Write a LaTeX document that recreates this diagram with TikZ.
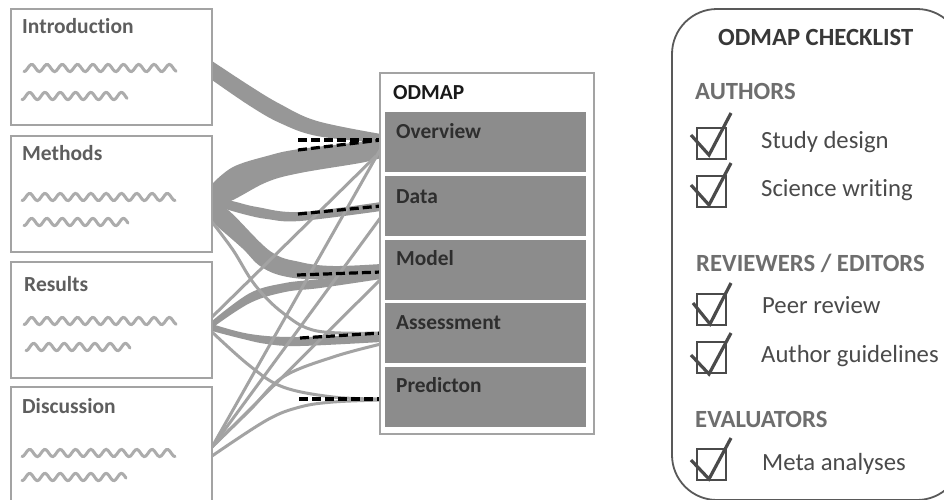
\documentclass[tikz,border=0pt]{standalone}
\usepackage{fontspec}
\setmainfont[Ligatures=NoCommon]{Carlito}
\definecolor{flowgrey}{HTML}{979797}
\definecolor{framegrey}{HTML}{A3A3A3}
\definecolor{wavegrey}{HTML}{ACACAC}
\definecolor{sectiongrey}{HTML}{8C8C8C}
\definecolor{titlegrey}{HTML}{5E5E5E}
\definecolor{headgrey}{HTML}{6E6E6E}
\definecolor{inkgrey}{HTML}{4A4A4A}
\newcommand{\wavyline}[3]{\draw[wave] plot[domain=#1:#2,samples=90,smooth] (\x,{#3+3.6*cos(((\x-#1)/15.3)*360)});}
\tikzset{
  x=1pt,y=-1pt,
  sourcebox/.style={draw=framegrey,fill=white,line width=2pt,minimum width=201.5pt,minimum height=116pt,anchor=north west,inner sep=0pt,outer sep=0pt},
  sectionbox/.style={fill=sectiongrey,minimum width=201pt,minimum height=60pt,anchor=north west,inner sep=0pt,outer sep=0pt},
  srctitle/.style={anchor=base west,inner sep=0pt,font=\fontsize{21.5}{21.5}\selectfont\bfseries,text=titlegrey},
  sectitle/.style={anchor=base west,inner sep=0pt,font=\fontsize{21.4}{21.4}\selectfont\bfseries,text=black!82},
  chead/.style={anchor=base west,inner sep=0pt,font=\fontsize{24.7}{24.7}\selectfont\bfseries,text=headgrey},
  citem/.style={anchor=base west,inner sep=0pt,font=\fontsize{24.7}{24.7}\selectfont,text=inkgrey},
  wave/.style={draw=wavegrey,line width=3pt,line cap=round},
  band/.style={fill=flowgrey,draw=none},
  thinflow/.style={draw=framegrey,line width=3pt},
  dashmark/.style={draw=black,line width=3.2pt,dash pattern=on 9pt off 4pt},
  tickbox/.style={draw=inkgrey,line width=1.8pt,minimum width=29pt,minimum height=31pt,anchor=north west,inner sep=0pt,outer sep=0pt},
  tickmark/.style={draw=inkgrey,line width=3.2pt,line join=miter},
}
\begin{document}
\begin{tikzpicture}
\useasboundingbox (0,0) rectangle (944,499);
\clip (0,0) rectangle (944,499);
\fill[white] (0,0) rectangle (944,499);

% ports
\coordinate (iA) at (212,61);  \coordinate (iB) at (212,80);
\coordinate (mA) at (212,184); \coordinate (mB) at (212,208);
\coordinate (mC) at (212,198); \coordinate (mD) at (212,205);
\coordinate (mE) at (212,206); \coordinate (mF) at (212,222);
\coordinate (rA) at (212,317); \coordinate (rB) at (212,321);
\coordinate (rC) at (212,332); \coordinate (dA) at (212,447);
\coordinate (dB) at (212,456);
\coordinate (ovA) at (381,134); \coordinate (ovB) at (381,143);
\coordinate (ovC) at (381,140); \coordinate (ovD) at (381,158);
\coordinate (ovE) at (376,156); \coordinate (ovF) at (380,150);
\coordinate (daA) at (381,202); \coordinate (daB) at (381,211);
\coordinate (daC) at (381,217);
\coordinate (moA) at (381,264); \coordinate (moB) at (381,274);
\coordinate (moC) at (381,270); \coordinate (moD) at (381,279);
\coordinate (moE) at (381,279);
\coordinate (asA) at (381,333); \coordinate (asB) at (381,334);
\coordinate (asC) at (381,342); \coordinate (asD) at (381,344);
\coordinate (prA) at (381,399); \coordinate (prB) at (381,400);

% flows
\fill[band] plot[smooth,tension=.6] coordinates {(iA) (250,86) (280,104) (317,121) (ovA)}
  -- plot[smooth,tension=.6] coordinates {(ovB) (317,136) (280,123) (250,106) (iB)} -- cycle;
\fill[band] plot[smooth,tension=.6] coordinates {(mA) (233,167) (267,156) (300,149) (ovC)}
  -- plot[smooth,tension=.6] coordinates {(ovD) (360,163) (300,173) (267,182) (233,200) (mB)} -- cycle;
\fill[band] plot[smooth,tension=.6] coordinates {(mC) (232,201) (257,207) (300,212) (daA)}
  -- plot[smooth,tension=.6] coordinates {(daB) (300,221) (267,219) (243,214) (mD)} -- cycle;
\fill[band] plot[smooth,tension=.6] coordinates {(mE) (228,210) (270,251) (300,262) (333,266) (moA)}
  -- plot[smooth,tension=.6] coordinates {(moB) (317,279) (283,276) (260,266) (242,248) (mF)} -- cycle;
\fill[band] plot[smooth,tension=.6] coordinates {(rB) (250,293) (285,283) (320,279) (moC)}
  -- plot[smooth,tension=.6] coordinates {(moD) (320,288) (285,292) (250,303) (212,328)} -- cycle;
\fill[band] plot[smooth,tension=.6] coordinates {(212,324) (250,334) (297,337) (asB)}
  -- plot[smooth,tension=.6] coordinates {(asC) (300,346) (267,344) (243,339) (212,331)} -- cycle;
\draw[thinflow] plot[smooth,tension=.6] coordinates {(mF) (233,250) (255,285) (283,313) (317,331) (asA)};
\draw[thinflow] plot[smooth,tension=.6] coordinates {(rC) (250,366) (283,387) (333,397) (prA)};
\draw[thinflow] plot[smooth,tension=.6] coordinates {(dA) (250,410) (283,377) (333,357) (asD)};
\draw[thinflow] plot[smooth,tension=.6] coordinates {(dB) (267,420) (300,407) (333,402) (prB)};
\draw[thinflow] (rA) -- (ovE);
\draw[thinflow] (dA) -- (ovF);
\draw[thinflow] (dA) -- (daC);
\draw[thinflow] (dA) -- (moE);

% dashed marks
\draw[dashmark] (298,140) -- (ovC);
\draw[dashmark] (298,150) -- (ovC);
\draw[dashmark] (298,214) -- (381,206);
\draw[dashmark] (297,275) -- (381,272);
\draw[dashmark] (300,338) -- (381,333);
\draw[dashmark] (299,399) -- (prA);

% source boxes
\node[sourcebox] (intro) at (10.5,9) {};
\node[sourcebox] (methods) at (10.5,135.5) {};
\node[sourcebox] (results) at (10.5,262) {};
\node[sourcebox,minimum height=125pt] (discussion) at (10.5,387) {};
\node[srctitle] (tintro) at (22,33) {Introduction};
\node[srctitle] (tmethods) at (22,160) {Methods};
\node[srctitle] (tresults) at (24,291) {Results};
\node[srctitle] (tdiscussion) at (22,413) {Discussion};

\wavyline{24}{176}{68}
\wavyline{22}{127}{96}
\wavyline{22}{175}{197}
\wavyline{24}{128}{222}
\wavyline{24}{176}{321}
\wavyline{26}{130}{347}
\wavyline{22}{175}{453}
\wavyline{22}{126}{477}

% ODMAP
\node[draw=framegrey,fill=white,line width=2pt,minimum width=214pt,minimum height=361pt,anchor=north west,inner sep=0pt,outer sep=0pt] (odmap) at (380,73) {};
\node[sectitle,text=black!90] (todmap) at (393,99) {ODMAP};
\node[sectionbox] (overview) at (385,112) {};
\node[sectionbox] (data) at (385,176) {};
\node[sectionbox] (model) at (385,240) {};
\node[sectionbox] (assessment) at (385,303) {};
\node[sectionbox] (prediction) at (385,367) {};
\node[sectitle] (toverview) at (396,138) {Overview};
\node[sectitle] (tdata) at (396,203) {Data};
\node[sectitle] (tmodel) at (396,265) {Model};
\node[sectitle] (tassessment) at (396,329) {Assessment};
\node[sectitle] (tprediction) at (396,392) {Predicton};

% checklist
\draw[draw=black!65,line width=1.8pt,rounded corners=45pt] (672,9) rectangle (962,500);
\node[chead,text=black!78] (tcheck) at (718,45) {ODMAP CHECKLIST};
\node[chead] (tauthors) at (695,99) {AUTHORS};
\node[citem] (study) at (761,148) {Study design};
\node[citem] (science) at (761,196) {Science writing};
\node[chead] (treviewers) at (696,271) {REVIEWERS / EDITORS};
\node[citem] (peer) at (762,313) {Peer review};
\node[citem] (guidelines) at (761,362) {Author guidelines};
\node[chead] (tevaluators) at (695,427) {EVALUATORS};
\node[citem] (meta) at (762,470) {Meta analyses};

\node[tickbox] (b1) at (697,128) {};
\node[tickbox] (b2) at (697,176) {};
\node[tickbox] (b3) at (697,294) {};
\node[tickbox] (b4) at (697,342) {};
\node[tickbox] (b5) at (697,449) {};
\draw[tickmark] (691,135) -- (709,155) -- (731,113);
\draw[tickmark] (691,185) -- (709,205) -- (731,163);
\draw[tickmark] (693,303) -- (710,324) -- (731,283);
\draw[tickmark] (691,355) -- (709,374) -- (731,333);
\draw[tickmark] (691,460) -- (709,479) -- (731,438);
\end{tikzpicture}
\end{document}
